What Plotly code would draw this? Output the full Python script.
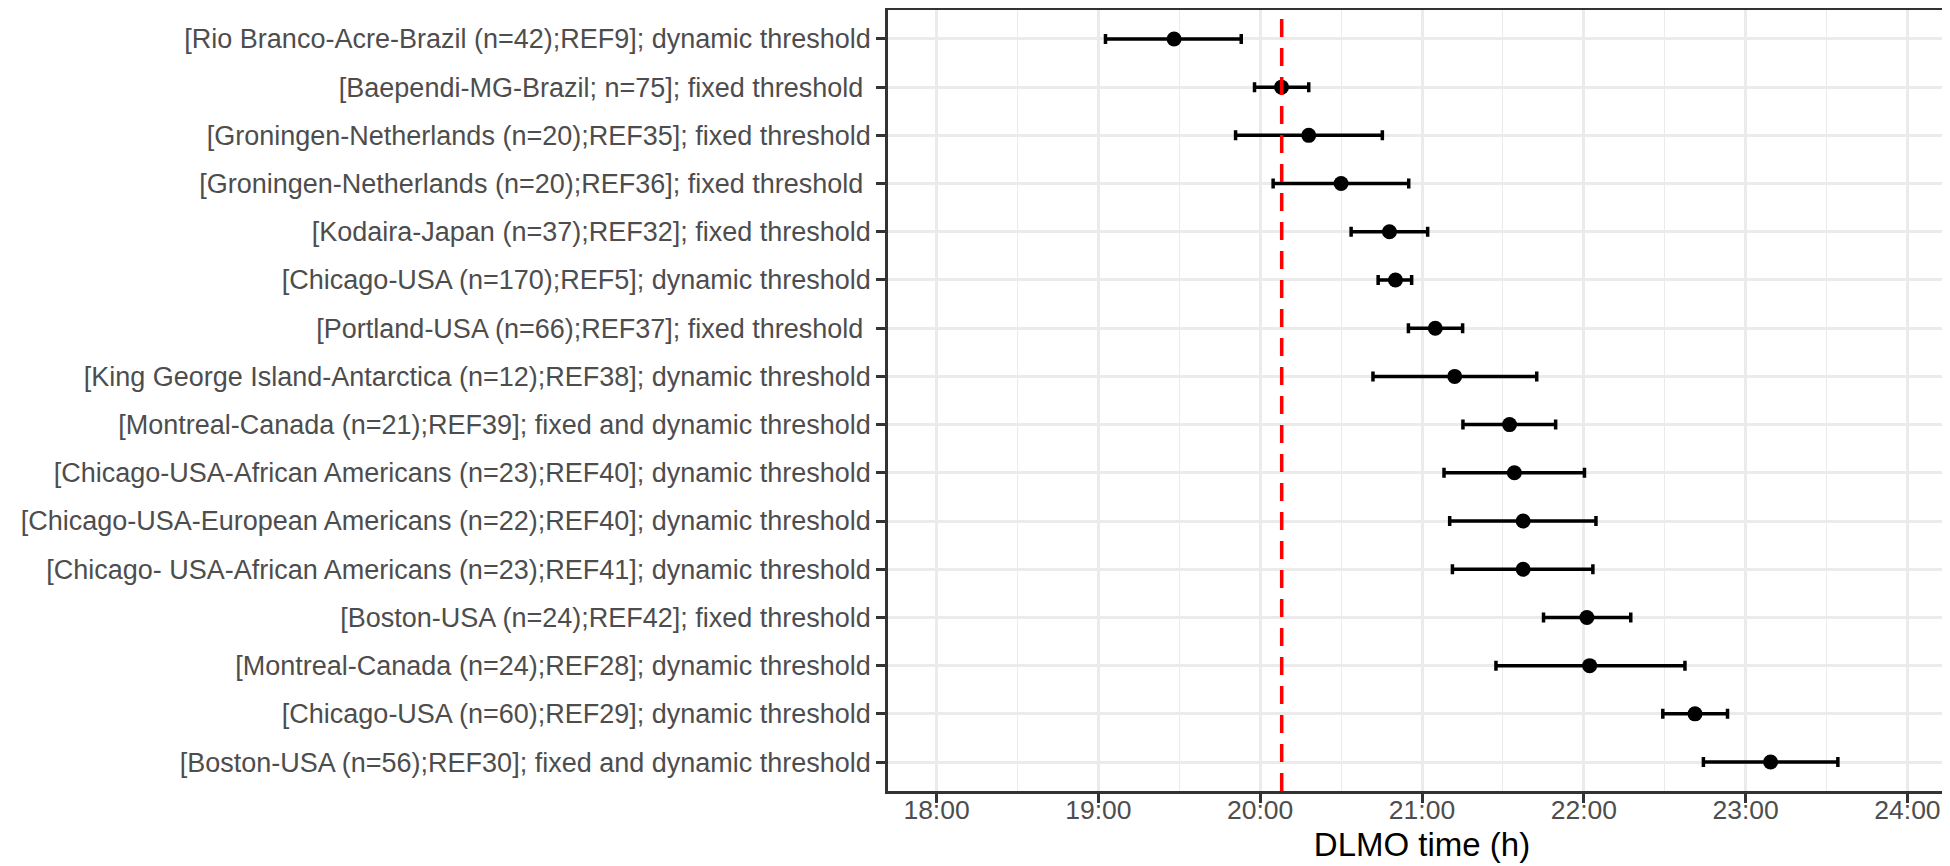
import plotly.graph_objects as go

studies = [
    "[Rio Branco-Acre-Brazil (n=42);REF9]; dynamic threshold",
    "[Baependi-MG-Brazil; n=75]; fixed threshold ",
    "[Groningen-Netherlands (n=20);REF35]; fixed threshold",
    "[Groningen-Netherlands (n=20);REF36]; fixed threshold ",
    "[Kodaira-Japan (n=37);REF32]; fixed threshold",
    "[Chicago-USA (n=170);REF5]; dynamic threshold",
    "[Portland-USA (n=66);REF37]; fixed threshold ",
    "[King George Island-Antarctica (n=12);REF38]; dynamic threshold",
    "[Montreal-Canada (n=21);REF39]; fixed and dynamic threshold",
    "[Chicago-USA-African Americans (n=23);REF40]; dynamic threshold",
    "[Chicago-USA-European Americans (n=22);REF40]; dynamic threshold",
    "[Chicago- USA-African Americans (n=23);REF41]; dynamic threshold",
    "[Boston-USA (n=24);REF42]; fixed threshold",
    "[Montreal-Canada (n=24);REF28]; dynamic threshold",
    "[Chicago-USA (n=60);REF29]; dynamic threshold",
    "[Boston-USA (n=56);REF30]; fixed and dynamic threshold",
]
dlmo = [19.468, 20.132, 20.300, 20.500, 20.799, 20.836, 21.082, 21.202,
        21.541, 21.571, 21.625, 21.625, 22.019, 22.036, 22.687, 23.154]
ci_low = [19.044, 19.965, 19.848, 20.080, 20.562, 20.729, 20.916, 20.697,
          21.253, 21.136, 21.171, 21.188, 21.751, 21.457, 22.488, 22.739]
ci_high = [19.883, 20.300, 20.755, 20.918, 21.035, 20.936, 21.251, 21.709,
           21.826, 22.004, 22.075, 22.056, 22.290, 22.625, 22.888, 23.570]
reference_line = 20.133
x_ticks = [18, 19, 20, 21, 22, 23, 24]
x_tick_labels = ["18:00", "19:00", "20:00", "21:00", "22:00", "23:00", "24:00"]

FONT = "Liberation Sans, Arial, sans-serif"
idx = list(range(len(studies)))
display_labels = [s[:-1] + "\u00a0" if s.endswith(" ") else s for s in studies]

fig = go.Figure()
fig.add_trace(go.Scatter(
    x=dlmo, y=idx, mode="markers",
    marker=dict(color="black", size=15),
    error_x=dict(type="data", symmetric=False,
                 array=[h - m for h, m in zip(ci_high, dlmo)],
                 arrayminus=[m - l for m, l in zip(dlmo, ci_low)],
                 color="black", thickness=3.5, width=5),
    showlegend=False,
))
fig.add_vline(x=reference_line, line=dict(color="#FF0000", width=3.5, dash="18px,11px"))

fig.update_layout(
    width=1950, height=866,
    margin=dict(l=880, r=2, t=2, b=83),
    paper_bgcolor="white", plot_bgcolor="white",
    font=dict(family=FONT, color="#4D4D4D", size=27),
    xaxis=dict(
        range=[17.7, 24.3], tickvals=x_ticks, ticktext=x_tick_labels,
        showgrid=True, gridcolor="#EBEBEB", gridwidth=2.7,
        minor=dict(dtick=0.5, tick0=17.5, showgrid=True, gridcolor="#EBEBEB", gridwidth=1.4, ticks=""),
        showline=True, mirror=True, linecolor="#333333", linewidth=2.5,
        ticks="outside", ticklen=9, tickwidth=2.5, tickcolor="#333333",
        ticklabelstandoff=-16,
        tickfont=dict(size=26.5, color="#4D4D4D", family=FONT),
        title=dict(text="DLMO time (h)", font=dict(size=33, color="black", family=FONT), standoff=10),
        zeroline=False, automargin=False,
    ),
    yaxis=dict(
        tickmode="array", tickvals=idx, ticktext=display_labels,
        range=[len(studies) - 1 + 0.6, -0.6],
        showgrid=True, gridcolor="#EBEBEB", gridwidth=2.7,
        showline=True, mirror=True, linecolor="#333333", linewidth=2.5,
        ticks="outside", ticklen=9, tickwidth=2.5, tickcolor="#333333",
        tickfont=dict(size=27, color="#4D4D4D", family=FONT),
        zeroline=False, automargin=False,
    ),
)

fig.write_html("out.html")
